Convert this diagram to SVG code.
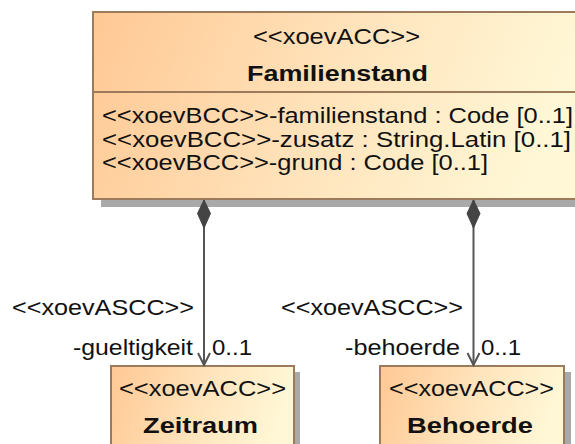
<svg xmlns="http://www.w3.org/2000/svg" width="575" height="444" viewBox="0 0 575 444">
  <defs>
    <linearGradient id="accFill" x1="0" y1="0" x2="1" y2="0.15">
      <stop offset="0" stop-color="#FFC894"/>
      <stop offset="0.55" stop-color="#FFE4BC"/>
      <stop offset="1" stop-color="#FFF7D6"/>
    </linearGradient>
    <marker id="composite" markerWidth="16" markerHeight="32" refX="8" refY="1" orient="0" markerUnits="userSpaceOnUse" viewBox="0 0 16 32">
      <path d="M8 1 L14.5 14.5 L8 29 L1.5 14.5 Z" fill="#444444" stroke="#444444" stroke-width="1"/>
    </marker>
    <marker id="openArrow" markerWidth="16" markerHeight="16" refX="8" refY="13" orient="0" markerUnits="userSpaceOnUse" viewBox="0 0 16 16">
      <path d="M2 1 L8 13 L14 1" fill="none" stroke="#555555" stroke-width="2"/>
    </marker>
  </defs>
  <style>
    .box { fill: url(#accFill); stroke: #9C7B5D; stroke-width: 2; }
    .shadow { fill: #A9A9A9; }
    .divider { stroke: #9C7B5D; stroke-width: 2; }
    text { font-family: "Liberation Sans", Arial, sans-serif; font-size: 22.5px; fill: #111111; }
    .name { font-weight: bold; font-size: 22px; }
    .conn { stroke: #555555; stroke-width: 2; fill: none; }
  </style>

  <!-- Familienstand class -->
  <g id="familienstand">
    <rect class="shadow" x="101" y="20" width="490" height="187"/>
    <rect class="box" x="93" y="12" width="490" height="187"/>
    <line class="divider" x1="93" y1="92" x2="583" y2="92"/>
    <text x="253" y="44" textLength="167" lengthAdjust="spacingAndGlyphs">&lt;&lt;xoevACC&gt;&gt;</text>
    <text class="name" x="247" y="81" textLength="181" lengthAdjust="spacingAndGlyphs">Familienstand</text>
    <text x="102" y="123" textLength="471" lengthAdjust="spacingAndGlyphs">&lt;&lt;xoevBCC&gt;&gt;-familienstand : Code [0..1]</text>
    <text x="102" y="146.5" textLength="469" lengthAdjust="spacingAndGlyphs">&lt;&lt;xoevBCC&gt;&gt;-zusatz : String.Latin [0..1]</text>
    <text x="102" y="170" textLength="386" lengthAdjust="spacingAndGlyphs">&lt;&lt;xoevBCC&gt;&gt;-grund : Code [0..1]</text>
  </g>

  <!-- Zeitraum class -->
  <g id="zeitraum">
    <rect class="shadow" x="117" y="372" width="183" height="80"/>
    <rect class="box" x="111" y="366" width="183" height="86"/>
    <text x="119" y="396" textLength="167" lengthAdjust="spacingAndGlyphs">&lt;&lt;xoevACC&gt;&gt;</text>
    <text class="name" x="143" y="433" textLength="115" lengthAdjust="spacingAndGlyphs">Zeitraum</text>
  </g>

  <!-- Behoerde class -->
  <g id="behoerde">
    <rect class="shadow" x="387" y="372" width="184" height="80"/>
    <rect class="box" x="380" y="366" width="184" height="86"/>
    <text x="389" y="396" textLength="165" lengthAdjust="spacingAndGlyphs">&lt;&lt;xoevACC&gt;&gt;</text>
    <text class="name" x="407" y="433" textLength="126" lengthAdjust="spacingAndGlyphs">Behoerde</text>
  </g>

  <!-- composition associations -->
  <g id="connectors">
    <line class="conn" x1="204" y1="200" x2="204" y2="365" marker-start="url(#composite)" marker-end="url(#openArrow)"/>
    <line class="conn" x1="473.5" y1="200" x2="473.5" y2="365" marker-start="url(#composite)" marker-end="url(#openArrow)"/>
    <text x="12" y="315" textLength="182" lengthAdjust="spacingAndGlyphs">&lt;&lt;xoevASCC&gt;&gt;</text>
    <text x="73" y="355" textLength="120" lengthAdjust="spacingAndGlyphs">-gueltigkeit</text>
    <text x="212" y="355" textLength="40" lengthAdjust="spacingAndGlyphs">0..1</text>
    <text x="281" y="315" textLength="182" lengthAdjust="spacingAndGlyphs">&lt;&lt;xoevASCC&gt;&gt;</text>
    <text x="345" y="355" textLength="115" lengthAdjust="spacingAndGlyphs">-behoerde</text>
    <text x="481" y="355" textLength="40" lengthAdjust="spacingAndGlyphs">0..1</text>
  </g>
</svg>
